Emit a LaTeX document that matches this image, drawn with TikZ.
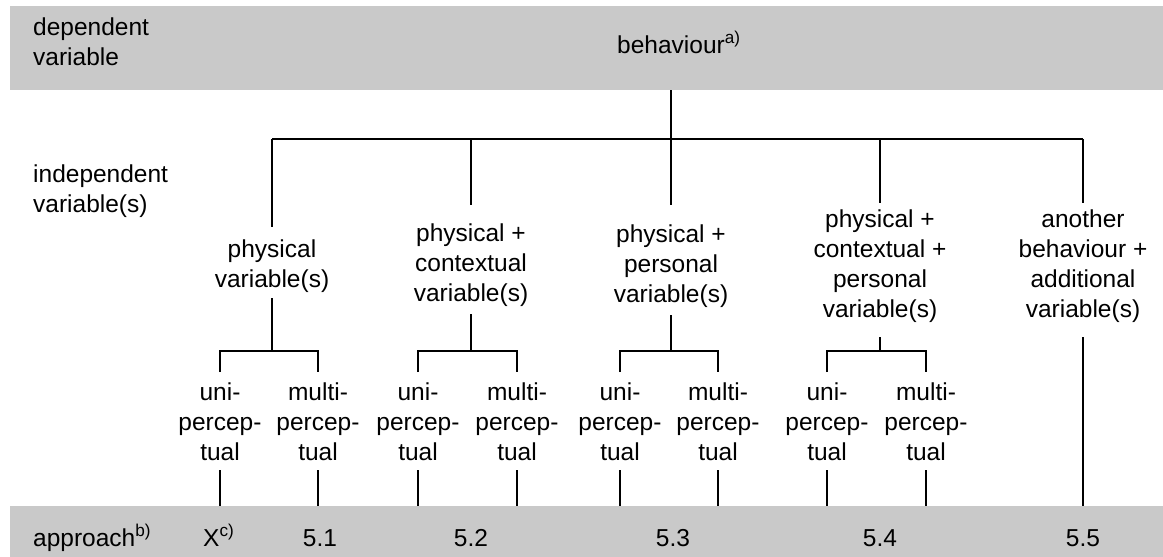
\documentclass[tikz,border=0pt]{standalone}
\usepackage{fontspec}
\setmainfont{Liberation Sans}
\usepackage{tikz}
\definecolor{bandgray}{RGB}{201,201,201}
\newcommand{\lblfont}{\fontsize{24.5}{30}\selectfont}
\tikzstyle{band} = [fill=bandgray, inner sep=0, anchor=north west]
\tikzstyle{side} = [align=left, inner sep=0, anchor=north west, font=\lblfont]
\tikzstyle{var} = [align=center, inner sep=0, anchor=north, font=\lblfont]
\tikzstyle{perc} = [align=center, inner sep=0, anchor=north, font=\lblfont]
\tikzstyle{num} = [inner sep=0, anchor=base, font=\lblfont]
\tikzstyle{tree} = [line width=1.8pt]

\begin{document}
\begin{tikzpicture}[x=1pt,y=-1pt]
    \useasboundingbox (0,0) rectangle (1163,557);
    \node (topband) [band, minimum width=1153pt, minimum height=84pt] at (10,6) {};
    \node (lowband) [band, minimum width=1153pt, minimum height=51pt] at (10,506) {};
    \node (dep) [side] at (33,18) {dependent\\variable};
    \node (beh) [num, anchor=base west] at (617,53) {behaviour\textsuperscript{a)}};
    \node (ind) [side] at (33,165) {independent\\variable(s)};
    \node (c1) [var] at (272,240) {physical\\variable(s)};
    \node (c2) [var] at (471,224) {physical +\\contextual\\variable(s)};
    \node (c3) [var] at (671,225) {physical +\\personal\\variable(s)};
    \node (c4) [var] at (880,210) {physical +\\contextual +\\personal\\variable(s)};
    \node (c5) [var] at (1083,210) {another\\behaviour +\\additional\\variable(s)};
    \node (u1) [perc] at (220,383) {uni-\\percep-\\tual};
    \node (m1) [perc] at (318,383) {multi-\\percep-\\tual};
    \node (u2) [perc] at (418,383) {uni-\\percep-\\tual};
    \node (m2) [perc] at (517,383) {multi-\\percep-\\tual};
    \node (u3) [perc] at (620,383) {uni-\\percep-\\tual};
    \node (m3) [perc] at (718,383) {multi-\\percep-\\tual};
    \node (u4) [perc] at (827,383) {uni-\\percep-\\tual};
    \node (m4) [perc] at (926,383) {multi-\\percep-\\tual};
    \node (apr) [num, anchor=base west] at (33,546) {approach\textsuperscript{b)}};
    \node (ax) [num, anchor=base west] at (203,546) {X\textsuperscript{c)}};
    \node (a1) [num] at (320,546) {5.1};
    \node (a2) [num] at (471,546) {5.2};
    \node (a3) [num] at (673,546) {5.3};
    \node (a4) [num] at (880,546) {5.4};
    \node (a5) [num] at (1083,546) {5.5};
    \coordinate (bar) at (0,139);
    \coordinate (sub) at (0,351);
    \draw[tree] (c3 |- topband.south) -- (c3 |- bar);
    \draw[tree] (c1 |- bar) -- (c5 |- bar);
    \draw[tree] (c1 |- bar) -- ([yshift=13pt]c1.north);
    \draw[tree] (c2 |- bar) -- ([yshift=19pt]c2.north);
    \draw[tree] (c3 |- bar) -- ([yshift=20pt]c3.north);
    \draw[tree] (c4 |- bar) -- ([yshift=7pt]c4.north);
    \draw[tree] (c5 |- bar) -- ([yshift=7pt]c5.north);
    \draw[tree] ([yshift=-5pt]c1.south) -- (c1 |- sub);
    \draw[tree] ([yshift=-7pt]c2.south) -- (c2 |- sub);
    \draw[tree] ([yshift=-7pt]c3.south) -- (c3 |- sub);
    \draw[tree] ([yshift=-14pt]c4.south) -- (c4 |- sub);
    \draw[tree] ([yshift=-14pt]c5.south) -- (c5 |- lowband.north);
    \draw[tree] ([yshift=11pt]u1.north) -- (u1 |- sub) -- (m1 |- sub) -- ([yshift=11pt]m1.north);
    \draw[tree] ([yshift=11pt]u2.north) -- (u2 |- sub) -- (m2 |- sub) -- ([yshift=11pt]m2.north);
    \draw[tree] ([yshift=11pt]u3.north) -- (u3 |- sub) -- (m3 |- sub) -- ([yshift=11pt]m3.north);
    \draw[tree] ([yshift=11pt]u4.north) -- (u4 |- sub) -- (m4 |- sub) -- ([yshift=11pt]m4.north);
    \draw[tree] ([yshift=-9pt]u1.south) -- (u1 |- lowband.north);
    \draw[tree] ([yshift=-9pt]m1.south) -- (m1 |- lowband.north);
    \draw[tree] ([yshift=-9pt]u2.south) -- (u2 |- lowband.north);
    \draw[tree] ([yshift=-9pt]m2.south) -- (m2 |- lowband.north);
    \draw[tree] ([yshift=-9pt]u3.south) -- (u3 |- lowband.north);
    \draw[tree] ([yshift=-9pt]m3.south) -- (m3 |- lowband.north);
    \draw[tree] ([yshift=-9pt]u4.south) -- (u4 |- lowband.north);
    \draw[tree] ([yshift=-9pt]m4.south) -- (m4 |- lowband.north);
\end{tikzpicture}
\end{document}
